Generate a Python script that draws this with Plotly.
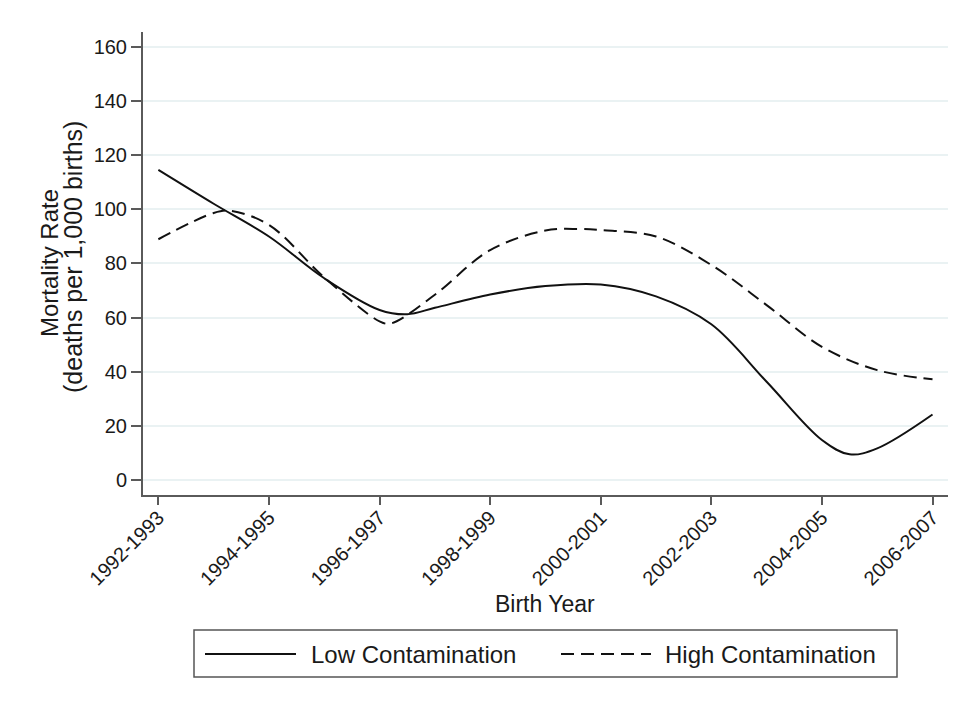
import plotly.graph_objects as go

# Tick labels (two-year birth cohorts), at positions 0..7
tick_labels = ["1992-1993", "1994-1995", "1996-1997", "1998-1999",
               "2000-2001", "2002-2003", "2004-2005", "2006-2007"]
tick_pos = list(range(len(tick_labels)))

# Curve readings at half-cohort steps (position along the cohort axis)
x_pos = [0, 0.5, 1, 1.5, 2, 2.25, 2.5, 3, 3.5, 4, 4.5, 5, 5.5, 6, 6.25, 6.5, 7]
low_contamination = [114.5, 102.0, 89.9, 74.5, 62.8, 61.2, 63.6, 68.5, 71.6, 72.2,
                     67.8, 57.5, 36.3, 14.8, 9.5, 11.7, 24.2]
x_pos_high = [0, 0.5, 0.65, 1, 1.5, 2, 2.1, 2.5, 3, 3.5, 3.8, 4, 4.5, 5, 5.5, 6, 6.5, 7]
high_contamination = [88.9, 98.6, 99.4, 94.2, 74.8, 58.6, 57.8, 68.4, 84.9, 92.1, 92.7,
                      92.3, 89.9, 79.4, 64.6, 49.2, 40.6, 37.2]

y_ticks = [0, 20, 40, 60, 80, 100, 120, 140, 160]

x_title = "Birth Year"
y_title_lines = ["Mortality Rate", "(deaths per 1,000 births)"]
legend_names = ["Low Contamination", "High Contamination"]

FONT = "Liberation Sans, Arial, sans-serif"
TXT = "#1a1a1a"
AX = "#5a5a5a"

fig = go.Figure()
fig.add_trace(go.Scatter(
    x=x_pos, y=low_contamination, mode="lines", name=legend_names[0],
    line=dict(color="#111111", width=2, shape="spline", smoothing=1.0),
    showlegend=False))
fig.add_trace(go.Scatter(
    x=x_pos_high, y=high_contamination, mode="lines", name=legend_names[1],
    line=dict(color="#111111", width=2, dash="13px,7px", shape="spline", smoothing=1.0),
    showlegend=False))

# page has an 8px body margin; figure coordinates below are page coords minus 8
OFF = 8
W, H = 958 - OFF, 704 - OFF
L, T = 143 - OFF, 32 - OFF
R = 10
B = H - (495 - OFF)
pw, ph = W - L - R, H - T - B

def px(xpix):  # page pixel -> paper x
    return (xpix - OFF - L) / pw

def py(ypix):  # page pixel -> paper y
    return (H - B - (ypix - OFF)) / ph

shapes = [
    dict(type="rect", xref="paper", yref="paper",
         x0=px(194), x1=px(897), y0=py(630), y1=py(677),
         line=dict(color="#555555", width=1.5), fillcolor="rgba(0,0,0,0)"),
    dict(type="line", xref="paper", yref="paper",
         x0=px(205), x1=px(296), y0=py(654), y1=py(654),
         line=dict(color="#111111", width=2)),
    dict(type="line", xref="paper", yref="paper",
         x0=px(561), x1=px(651), y0=py(654), y1=py(654),
         line=dict(color="#111111", width=2, dash="13px,7px")),
]
annotations = [
    dict(xref="paper", yref="paper", x=px(309), y=py(654), xanchor="left", yanchor="middle",
         text=legend_names[0], showarrow=False, font=dict(family=FONT, size=24, color=TXT)),
    dict(xref="paper", yref="paper", x=px(663), y=py(654), xanchor="left", yanchor="middle",
         text=legend_names[1], showarrow=False, font=dict(family=FONT, size=24, color=TXT)),
    dict(xref="paper", yref="paper", x=px(545), y=py(604), xanchor="center", yanchor="middle",
         text=x_title, showarrow=False, font=dict(family=FONT, size=23, color=TXT)),
    dict(xref="paper", yref="paper", x=px(49), y=py(263), xanchor="center", yanchor="middle",
         text=y_title_lines[0], textangle=-90, showarrow=False,
         font=dict(family=FONT, size=24, color=TXT)),
    dict(xref="paper", yref="paper", x=px(73), y=py(257), xanchor="center", yanchor="middle",
         text=y_title_lines[1], textangle=-90, showarrow=False,
         font=dict(family=FONT, size=25, color=TXT)),
]

fig.update_layout(
    width=W, height=H,
    margin=dict(l=L, r=R, t=T, b=B),
    paper_bgcolor="white", plot_bgcolor="white",
    font=dict(family=FONT, color=TXT),
    shapes=shapes, annotations=annotations,
    xaxis=dict(
        range=[-0.139, 7.14], tickmode="array", tickvals=tick_pos, ticktext=tick_labels,
        tickangle=-45, tickfont=dict(size=20, color=TXT), ticklabelstandoff=-7,
        showgrid=False, zeroline=False, showline=True, linecolor=AX, linewidth=2,
        ticks="outside", ticklen=8, tickwidth=1.5, tickcolor=AX,
    ),
    yaxis=dict(
        range=[-5.5, 165.4], tickmode="array", tickvals=y_ticks,
        tickfont=dict(size=20, color=TXT),
        showgrid=True, gridcolor="#eaf2f3", gridwidth=1.5,
        zeroline=False, showline=True, linecolor=AX, linewidth=2,
        ticks="outside", ticklen=10, tickwidth=1.5, tickcolor=AX,
    ),
)

fig.write_html("out.html")
